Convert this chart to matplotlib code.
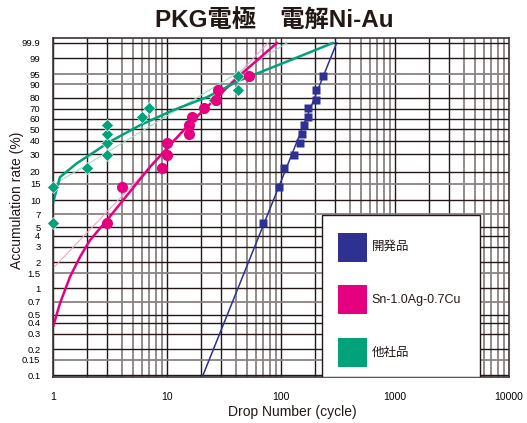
import numpy as np
import matplotlib.pyplot as plt
from matplotlib.patches import Rectangle

plt.rcParams['font.family'] = ['Liberation Sans', 'Noto Sans CJK JP', 'DejaVu Sans']

# Cumulative failure rate (%) for the 12 samples of each lot
cum_rate = [5.6, 13.7, 21.8, 29.8, 37.9, 46.0, 54.0, 62.1, 70.2, 78.2, 86.3, 94.4]

# Drops to failure for each lot
dev_cycles = [70, 97, 107, 131, 148, 153, 160, 173, 173, 204, 204, 235]
sac_cycles = [3, 4, 9, 10, 10, 15.5, 15.5, 16.5, 21, 27, 28, 52]
other_cycles = [1, 1, 2, 3, 3, 3, 3, 6, 7, 26, 42, 42]

# Straight Weibull fits (end points)
dev_fit_cycles = [20.7, 308]
dev_fit_rate = [0.1, 99.9]
sac_line_cycles = [1, 77]
sac_line_rate = [1.7, 99.9]
other_line_cycles = [1, 113]
other_line_rate = [14.5, 99.9]

# Curved fits
sac_curve_cycles = [1, 1.15, 1.41, 1.73, 2.11, 2.97, 7.1, 15.9, 43.6, 92.3]
sac_curve_rate = [0.36, 0.67, 1.36, 2.31, 3.56, 5.98, 22.5, 55.7, 94.6, 99.9]
other_curve_cycles = [1, 1.15, 1.62, 2.43, 2.97, 5.8, 11.3, 22.4, 43.6, 120, 286]
other_curve_rate = [9.25, 17.6, 24.5, 32.8, 38.0, 53.8, 68.4, 80.4, 92.2, 98.7, 99.9]

y_ticks = [0.1, 0.15, 0.2, 0.3, 0.4, 0.5, 0.7, 1, 1.5, 2, 3, 4, 5, 7, 10, 15, 20,
           30, 40, 50, 60, 70, 80, 90, 95, 99, 99.9]
y_tick_labels = ['0.1', '0.15', '0.2', '0.3', '0.4', '0.5', '0.7', '1', '1.5', '2', '3',
                 '4', '5', '7', '10', '15', '20', '30', '40', '50', '60', '70', '80',
                 '90', '95', '99', '99.9']
grey_rows = [0.15, 0.7, 1.5, 7, 15, 90, 95]

labels = ['開発品', 'Sn-1.0Ag-0.7Cu', '他社品']
BLUE = '#2e3192'
PINK = '#e4007f'
GREEN = '#00a27a'
colors = [BLUE, PINK, GREEN]


def weibull(p):
    """Weibull probability scale: ln(-ln(1 - F))."""
    return np.log(-np.log(1 - np.asarray(p, dtype=float) / 100.0))


fig = plt.figure(figsize=(5.27, 4.23), dpi=100)
ax = fig.add_axes([53 / 527, 46 / 423, 456 / 527, 339 / 423])
ax.set_xscale('log')
ax.set_xlim(1, 10000)
ax.set_ylim(weibull(0.1) - 0.05, weibull(99.9) + 0.13)

# Grid
for decade in [1, 10, 100, 1000]:
    for m in range(1, 10):
        c = '#231815' if m <= 3 else '#8a8282'
        ax.axvline(m * decade, color=c, lw=1.0 if m <= 3 else 1.3, zorder=1)
for p in y_ticks:
    c = '#8a8282' if p in grey_rows else '#231815'
    ax.axhline(weibull(p), color=c, lw=1.0 if c == '#231815' else 1.3, zorder=1)

# Fitted lines
ax.plot(sac_line_cycles, weibull(sac_line_rate), color='#f5a3c7', lw=0.8, zorder=2)
ax.plot(other_line_cycles, weibull(other_line_rate), color='#9fdcc6', lw=0.8, zorder=2)
ax.plot(dev_fit_cycles, weibull(dev_fit_rate), color=BLUE, lw=1.1, zorder=2)
ax.plot(sac_curve_cycles, weibull(sac_curve_rate), color=PINK, lw=1.8, zorder=2,
        solid_capstyle='round')
ax.plot(other_curve_cycles, weibull(other_curve_rate), color=GREEN, lw=1.8, zorder=2,
        solid_capstyle='round')

# Data points
ax.plot(other_cycles, weibull(cum_rate), 'D', color=GREEN, ms=6, mec='white', mew=0.4,
        ls='none', zorder=3, clip_on=False)
ax.plot(sac_cycles, weibull(cum_rate), 'o', color=PINK, ms=8, mec='none',
        ls='none', zorder=3)
ax.plot(dev_cycles, weibull(cum_rate), 's', color=BLUE, ms=6.3, mec='none',
        ls='none', zorder=3)

ax.set_yticks(weibull(y_ticks))
ax.set_yticklabels(y_tick_labels)
ax.set_xticks([1, 10, 100, 1000, 10000])
ax.set_xticklabels(['1', '10', '100', '1000', '10000'])
ax.xaxis.set_minor_locator(plt.NullLocator())
ax.tick_params(axis='y', length=0, pad=9, labelsize=6.8)
ax.tick_params(axis='x', length=0, pad=11, labelsize=7.5)
for s in ax.spines.values():
    s.set_color('#3c3434')
    s.set_linewidth(1.2)

# Legend box
ax.add_patch(Rectangle((0.591, 0.0), 0.345, 0.478, transform=ax.transAxes,
                       facecolor='white', edgecolor='#231815', lw=1.0, zorder=5))
patch_y = [0.340, 0.186, 0.0295]
text_y = [0.3826, 0.227, 0.0717]
for lab, c, py, ty in zip(labels, colors, patch_y, text_y):
    ax.add_patch(Rectangle((0.6257, py), 0.0623, 0.0855, transform=ax.transAxes,
                           facecolor=c, edgecolor='none', zorder=6))
    ax.text(0.699, ty, lab, transform=ax.transAxes, fontsize=9, va='center',
            ha='left', color='#231815', zorder=6)

fig.text(0.52, 0.953, 'PKG電極　電解Ni-Au', fontsize=17.5, weight='bold',
         ha='center', va='center', color='#231815')
fig.text(17 / 527, 0.527, 'Accumulation rate (%)', rotation=90, fontsize=10,
         ha='center', va='center', color='#231815')
fig.text(292 / 527, 1 - 412 / 423, 'Drop Number (cycle)', fontsize=10,
         ha='center', va='center', color='#231815')

fig.savefig('out.png', dpi=100)
